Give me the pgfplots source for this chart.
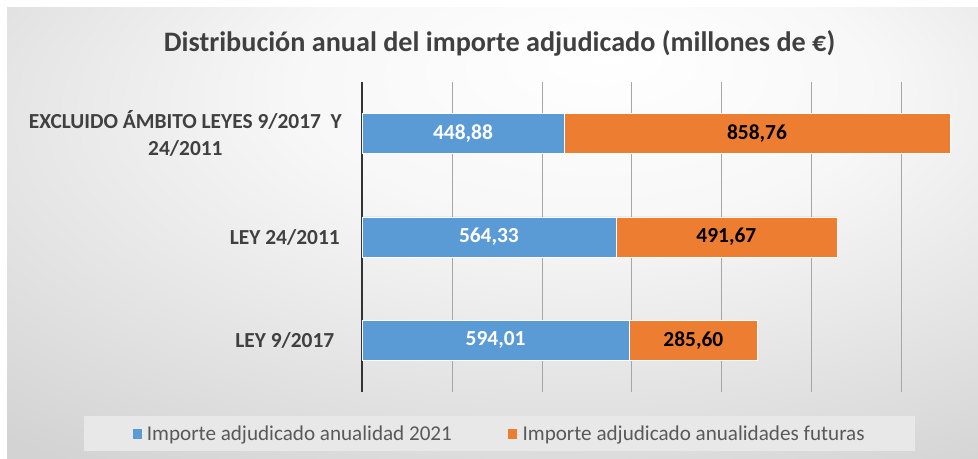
\documentclass[border=0pt]{standalone}
\usepackage{pgfplots}
\pgfplotsset{compat=1.18}
\usepackage{pgfplotstable}
\usepackage{fontspec}
\setmainfont{Carlito}
\definecolor{bblue}{HTML}{5B9BD5}
\definecolor{borange}{HTML}{ED7D31}
\definecolor{txt}{HTML}{404040}
\definecolor{legtxt}{HTML}{595959}
\definecolor{gridc}{HTML}{A6A6A6}
\pgfdeclareradialshading{bgsh}{\pgfpoint{6bp}{20bp}}{color(0bp)=(white); color(15bp)=(white!97!black); color(42bp)=(black!17); color(58bp)=(black!21); color(80bp)=(black!23)}
\pgfplotstableread{
y a b la lb
0 594.01 285.60 594,01 285,60
1 564.33 491.67 564,33 491,67
2 448.88 858.76 448,88 858,76
}\data
\begin{document}
\begin{tikzpicture}[x=1bp,y=1bp]
\path[use as bounding box, fill=white] (0,0) rectangle (978,459);
\fill[shading=bgsh] (7,0) rectangle (978,451);
\begin{axis}[
  scale only axis, width=604bp, height=310bp,
  at={(362bp,67bp)}, anchor=south west,
  xbar stacked, bar width=40bp,
  xmin=0, xmax=1343, ymin=-0.5, ymax=2.5,
  axis lines*=left,
  x axis line style={draw=none},
  y axis line style={draw=black!80, line width=1.4bp},
  xtick={0,200,...,1200}, xticklabels={},
  xmajorgrids, major grid style={draw=gridc, line width=0.8bp},
  ytick={0,1,2},
  yticklabels={{\makebox[114bp][c]{LEY 9/2017}},{\makebox[114bp][c]{LEY 24/2011}},{EXCLUIDO ÁMBITO LEYES 9/2017\ \ Y\\24/2011}},
  yticklabel style={anchor=east, align=center, inner sep=0pt, xshift=-20bp, font=\fontsize{21.5}{27}\selectfont\bfseries, text=txt},
  tick style={draw=none},
  /pgf/number format/assume math mode=true,
  title={Distribución anual del importe adjudicado (millones de €)},
  title style={at={(axis description cs:0.2276,1)}, anchor=base, yshift=25bp, font=\fontsize{28.3}{32}\selectfont\bfseries, text=txt},
  legend columns=2,
  legend style={at={(axis description cs:0.2276,-0.1339)}, anchor=center, fill=black!9, draw=none,
    inner xsep=48bp, inner ysep=7bp, font=\fontsize{21.2}{25}\selectfont, text=legtxt,
    /tikz/every even column/.append style={column sep=54bp}},
  legend image code/.code={\path (0bp,0bp) rectangle (12bp,0bp); \fill[#1,draw=none] (0bp,-5bp) rectangle (9bp,5bp);},
]
\addplot[fill=bblue, draw=white, line width=0.6bp] table[x=a, y=y] {\data};
\addlegendentry{Importe adjudicado anualidad 2021}
\addplot[fill=borange, draw=white, line width=0.6bp] table[x=b, y=y] {\data};
\addlegendentry{Importe adjudicado anualidades futuras}
\end{axis}
\begin{axis}[
  scale only axis, width=604bp, height=310bp,
  at={(362bp,67bp)}, anchor=south west,
  xmin=0, xmax=1343, ymin=-0.5, ymax=2.5,
  hide axis, clip=false,
]
\addplot[only marks, mark=*, mark size=0pt, mark options={draw=none, fill=none},
  nodes near coords, point meta=explicit symbolic,
  every node near coord/.style={anchor=center, text=white, font=\fontsize{21.5}{24}\selectfont\bfseries}]
  table[x expr=\thisrow{a}/2, y=y, meta=la] {\data};
\addplot[only marks, mark=*, mark size=0pt, mark options={draw=none, fill=none},
  nodes near coords, point meta=explicit symbolic,
  every node near coord/.style={anchor=center, text=black, font=\fontsize{21.5}{24}\selectfont\bfseries}]
  table[x expr=\thisrow{a}+\thisrow{b}/2, y=y, meta=lb] {\data};
\end{axis}
\end{tikzpicture}
\end{document}
